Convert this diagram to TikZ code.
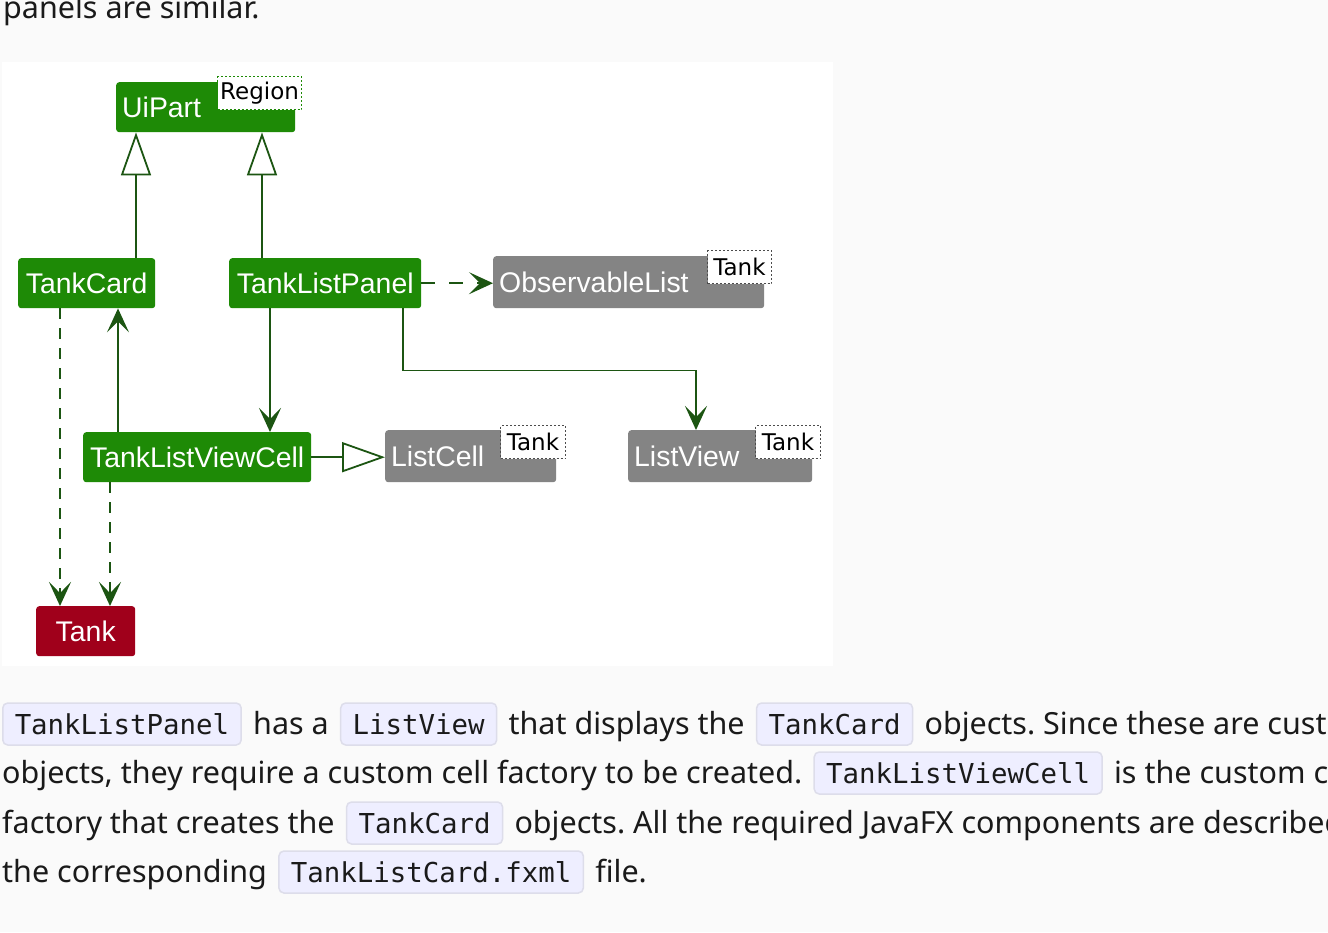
\documentclass[tikz,border=0pt]{standalone}
\usepackage{fontspec}
\setmainfont{Noto Sans}
\newfontfamily\umlfont{Liberation Sans}
\newfontfamily\argfont{DejaVu Sans}
\newfontfamily\codefont{DejaVu Sans Mono}
\usetikzlibrary{arrows.meta, positioning, calc}
\definecolor{umlgreen}{HTML}{1E8A06}
\definecolor{umlgray}{HTML}{848484}
\definecolor{umlred}{HTML}{A0001B}
\definecolor{edgegreen}{HTML}{1C5512}
\definecolor{pagebg}{HTML}{FAFAFA}
\definecolor{codefill}{HTML}{EEEEFF}
\definecolor{codeline}{HTML}{DDDDEA}
\definecolor{inktext}{HTML}{1A1A1A}
\frenchspacing

\begin{document}
\begin{tikzpicture}[
    x=1pt, y=-1pt,
    cls/.style={rounded corners=3pt, minimum height=50pt, inner xsep=6pt, inner ysep=0pt, anchor=north west, align=left, text=white, font=\umlfont\fontsize{28.4}{30}\selectfont},
    arg/.style={dash pattern=on 2pt off 2pt, line width=1pt, fill=white, anchor=north west, minimum height=33pt, inner sep=0pt, text=black, font=\argfont\fontsize{23}{24}\selectfont},
    assoc/.style={draw=edgegreen, line width=1.8pt, -{Stealth[length=24pt, width=22pt, inset=11pt]}},
    depends/.style={assoc, dash pattern=on 11pt off 9pt},
    inherit/.style={draw=edgegreen, line width=1.8pt, -{Triangle[open, length=43pt, width=30pt, fill=white]}},
    para/.style={inner sep=0pt, text=inktext, font=\fontsize{30.5}{36}\selectfont},
    code/.style={fill=codefill, draw=codeline, line width=1.5pt, rounded corners=5pt, inner xsep=12pt, inner ysep=0pt, text height=31pt, text depth=11pt, text=inktext, font=\codefont\fontsize{27.4}{30}\selectfont},
]
    \useasboundingbox (0,0) rectangle (1328,932);
    \fill[pagebg] (0,0) rectangle (1328,932);
    \clip (0,0) rectangle (1328,932);
    \fill[white] (2,62) rectangle (833,666);

    % classes
    \node[cls, fill=umlgreen, minimum width=179pt, text width=167pt] (uipart) at (116,82) {UiPart};
    \node[arg, draw=umlgreen, minimum width=84pt] (uipartarg) at (217,76) {Region};
    \node[cls, fill=umlgreen, minimum width=137pt] (tankcard) at (18,258) {TankCard};
    \node[cls, fill=umlgreen, minimum width=192pt] (tanklistpanel) at (229,258) {TankListPanel};
    \node[cls, fill=umlgray, minimum height=52pt, minimum width=271pt, text width=259pt] (observable) at (493,256) {ObservableList};
    \node[arg, draw=black!70, minimum width=64pt] (observablearg) at (707,250) {Tank};
    \node[cls, fill=umlgreen, minimum width=228pt] (viewcell) at (83,432) {TankListViewCell};
    \node[cls, fill=umlgray, minimum height=52pt, minimum width=171pt, text width=159pt] (listcell) at (385,430) {ListCell};
    \node[arg, draw=black!70, minimum width=65pt] (listcellarg) at (500,425) {Tank};
    \node[cls, fill=umlgray, minimum height=52pt, minimum width=184pt, text width=172pt] (listview) at (628,430) {ListView};
    \node[arg, draw=black!70, minimum width=65pt] (listviewarg) at (755,425) {Tank};
    \node[cls, fill=umlred, minimum width=99pt, align=center] (tank) at (36,606) {Tank};

    % connector ends
    \coordinate (card up) at ($(tankcard.north west)+(118,0)$);
    \coordinate (panel up) at ($(tanklistpanel.north west)+(33,0)$);
    \coordinate (panel down) at ($(tanklistpanel.south west)+(41,0)$);
    \coordinate (panel side) at ($(tanklistpanel.south west)+(174,0)$);
    \coordinate (view in) at ($(listview.north west)+(68,0)$);
    \coordinate (cell up) at ($(viewcell.north west)+(35,0)$);
    \coordinate (card down) at ($(tankcard.south west)+(42,0)$);
    \coordinate (cell down) at ($(viewcell.south west)+(27,0)$);

    \draw[inherit] (card up) -- (card up |- uipart.south);
    \draw[inherit] (panel up) -- (panel up |- uipart.south);
    \draw[inherit] (viewcell.east) -- (viewcell.east -| listcell.west);
    \draw[depends, dash pattern=on 14pt off 14pt] (tanklistpanel.east) -- (tanklistpanel.east -| observable.west);
    \draw[assoc] (panel side) -- ++(0,62) -| (view in);
    \draw[assoc] (panel down) -- (panel down |- viewcell.north);
    \draw[assoc] (cell up) -- (cell up |- tankcard.south);
    \draw[depends] (card down) -- (card down |- tank.north);
    \draw[depends] (cell down) -- (cell down |- tank.north);

    % text round the diagram
    \node[para, anchor=base west] (intro) at (3,18) {panels are similar.};

    \node[code, anchor=base west] (code1) at (2,734) {TankListPanel};
    \node[para, base right=11pt of code1] (text1) {has a};
    \node[code, base right=11pt of text1] (code2) {ListView};
    \node[para, base right=11pt of code2] (text2) {that displays the};
    \node[code, base right=11pt of text2] (code3) {TankCard};
    \node[para, base right=11pt of code3] (text3) {objects. Since these are custom};

    \node[para, anchor=base west] (text4) at (2,783) {objects, they require a custom cell factory to be created.};
    \node[code, base right=11pt of text4] (code4) {TankListViewCell};
    \node[para, base right=11pt of code4] (text5) {is the custom cell};

    \node[para, anchor=base west] (text6) at (2,833) {factory that creates the};
    \node[code, base right=11pt of text6] (code5) {TankCard};
    \node[para, base right=11pt of code5] (text7) {objects. All the required JavaFX components are described};

    \node[para, anchor=base west] (text8) at (2,882) {the corresponding};
    \node[code, base right=11pt of text8] (code6) {TankListCard.fxml};
    \node[para, base right=11pt of code6] (text9) {file.};
\end{tikzpicture}
\end{document}
